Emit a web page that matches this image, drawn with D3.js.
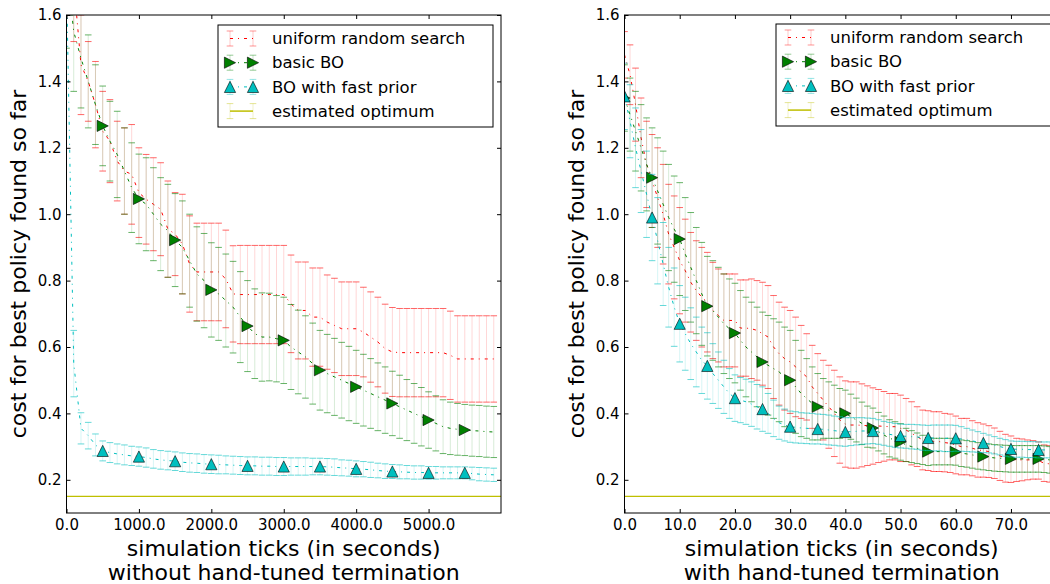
<!DOCTYPE html>
<html><head><meta charset="utf-8">
<script src="https://cdn.jsdelivr.net/npm/d3@7"></script>
<style>body{margin:0;background:#fff}svg{display:block}text{font-family:"DejaVu Sans",sans-serif}</style>
</head><body><svg id="chart" width="1050" height="584"></svg>
<script>
// ---------- data ----------
const seriesNames = ["uniform random search", "basic BO", "BO with fast prior", "estimated optimum"];
const yTickValues = [0.2, 0.4, 0.6, 0.8, 1.0, 1.2, 1.4, 1.6];
const leftXTickValues = [0, 1000, 2000, 3000, 4000, 5000];
const rightXTickValues = [0, 10, 20, 30, 40, 50, 60, 70];
const estimatedOptimum = 0.15;

const leftX = [0,100,200,300,400,500,600,700,800,900,1000,1100,1200,1300,1400,1500,1600,1700,1800,1900,
 2000,2100,2200,2300,2400,2500,2600,2700,2800,2900,3000,3100,3200,3300,3400,3500,3600,3700,3800,3900,
 4000,4100,4200,4300,4400,4500,4600,4700,4800,4900,5000,5100,5200,5300,5400,5500,5600,5700,5800,5900];
const leftRandomMean = [1.85,1.70,1.45,1.40,1.33,1.25,1.22,1.16,1.13,1.12,
 1.065,1.045,1.03,1.015,0.955,0.94,0.91,0.85,0.826,0.826,
 0.826,0.826,0.805,0.76,0.758,0.758,0.758,0.758,0.758,0.758,
 0.758,0.73,0.71,0.71,0.69,0.69,0.675,0.665,0.655,0.655,
 0.655,0.645,0.63,0.615,0.595,0.585,0.583,0.583,0.583,0.583,
 0.583,0.583,0.583,0.575,0.564,0.564,0.564,0.564,0.564,0.564];
const leftRandomErr = [0.20,0.18,0.15,0.12,0.13,0.12,0.125,0.12,0.13,0.15,
 0.135,0.135,0.14,0.14,0.145,0.125,0.15,0.145,0.147,0.147,
 0.147,0.147,0.147,0.145,0.148,0.148,0.148,0.148,0.148,0.148,
 0.148,0.147,0.146,0.146,0.148,0.148,0.142,0.142,0.141,0.141,
 0.141,0.135,0.136,0.135,0.134,0.134,0.133,0.133,0.133,0.133,
 0.133,0.133,0.133,0.133,0.13,0.13,0.13,0.13,0.13,0.13];
const leftBasicMean = [1.75,1.55,1.47,1.40,1.33,1.266,1.22,1.18,1.13,1.08,
 1.046,1.03,1.00,0.97,0.95,0.922,0.90,0.86,0.82,0.80,
 0.772,0.76,0.74,0.72,0.69,0.663,0.64,0.63,0.63,0.625,
 0.62,0.60,0.585,0.57,0.55,0.53,0.52,0.51,0.50,0.49,
 0.48,0.47,0.46,0.45,0.44,0.43,0.42,0.41,0.40,0.39,
 0.38,0.37,0.36,0.355,0.352,0.35,0.348,0.347,0.345,0.344];
const leftBasicErr = [0.25,0.18,0.15,0.14,0.12,0.12,0.12,0.13,0.13,0.135,
 0.135,0.14,0.14,0.14,0.14,0.14,0.14,0.14,0.142,0.142,
 0.142,0.14,0.14,0.138,0.137,0.137,0.135,0.133,0.132,0.13,
 0.13,0.128,0.126,0.124,0.122,0.12,0.118,0.116,0.114,0.112,
 0.11,0.108,0.105,0.102,0.1,0.097,0.095,0.092,0.09,0.088,
 0.085,0.083,0.081,0.079,0.078,0.077,0.077,0.077,0.077,0.077];
const leftPriorMean = [1.70,0.55,0.355,0.333,0.305,0.287,0.282,0.278,0.275,0.272,
 0.27,0.267,0.263,0.26,0.258,0.256,0.253,0.251,0.25,0.248,
 0.247,0.246,0.245,0.244,0.243,0.242,0.242,0.241,0.241,0.24,
 0.24,0.24,0.24,0.24,0.24,0.24,0.239,0.238,0.236,0.235,
 0.233,0.232,0.23,0.228,0.226,0.225,0.224,0.223,0.222,0.222,
 0.221,0.221,0.221,0.221,0.221,0.221,0.219,0.217,0.216,0.215];
const leftPriorErr = [0.30,0.10,0.047,0.04,0.033,0.03,0.03,0.03,0.03,0.029,
 0.029,0.029,0.028,0.028,0.028,0.028,0.028,0.028,0.028,0.028,
 0.028,0.028,0.027,0.027,0.027,0.027,0.027,0.027,0.027,0.027,
 0.027,0.026,0.026,0.026,0.025,0.025,0.025,0.025,0.024,0.024,
 0.024,0.023,0.023,0.022,0.022,0.021,0.021,0.02,0.02,0.02,
 0.019,0.019,0.018,0.018,0.018,0.018,0.019,0.02,0.02,0.02];

const rightX = [0,1,2,3,4,5,6,7,8,9,10,11,12,13,14,15,16,17,18,19,20,21,22,23,24,25,26,27,28,29,
 30,31,32,33,34,35,36,37,38,39,40,41,42,43,44,45,46,47,48,49,50,51,52,53,54,55,56,57,58,59,
 60,61,62,63,64,65,66,67,68,69,70,71,72,73,74,75,76,77];
const rightRandomMean = [1.48,1.42,1.33,1.23,1.15,1.10,1.05,1.00,0.94,0.90,
 0.86,0.83,0.795,0.77,0.75,0.735,0.71,0.695,0.68,0.68,
 0.68,0.657,0.657,0.655,0.65,0.64,0.63,0.60,0.58,0.565,
 0.555,0.54,0.525,0.51,0.48,0.46,0.44,0.42,0.40,0.38,
 0.368,0.365,0.365,0.364,0.363,0.362,0.362,0.361,0.36,0.36,
 0.355,0.35,0.34,0.33,0.32,0.318,0.315,0.315,0.312,0.31,
 0.305,0.30,0.30,0.295,0.29,0.288,0.285,0.28,0.272,0.265,
 0.262,0.26,0.26,0.26,0.26,0.258,0.25,0.248];
const rightRandomErr = [0.07,0.09,0.11,0.12,0.13,0.14,0.15,0.15,0.15,0.155,
 0.16,0.155,0.15,0.15,0.15,0.15,0.145,0.14,0.14,0.14,
 0.14,0.145,0.145,0.15,0.15,0.155,0.155,0.155,0.155,0.155,
 0.155,0.15,0.14,0.13,0.125,0.12,0.12,0.125,0.13,0.13,
 0.13,0.13,0.13,0.125,0.12,0.115,0.11,0.105,0.1,0.1,
 0.1,0.095,0.095,0.09,0.09,0.09,0.09,0.09,0.088,0.088,
 0.087,0.085,0.085,0.083,0.082,0.08,0.078,0.076,0.074,0.072,
 0.07,0.065,0.063,0.06,0.058,0.056,0.055,0.055];
const rightBasicMean = [1.35,1.30,1.25,1.20,1.15,1.11,1.07,1.03,0.99,0.955,
 0.925,0.88,0.84,0.80,0.76,0.723,0.71,0.69,0.67,0.655,
 0.642,0.62,0.60,0.585,0.57,0.555,0.545,0.535,0.525,0.51,
 0.50,0.48,0.46,0.445,0.43,0.42,0.415,0.41,0.405,0.40,
 0.40,0.39,0.38,0.37,0.36,0.356,0.345,0.335,0.325,0.32,
 0.314,0.305,0.30,0.295,0.29,0.285,0.285,0.285,0.285,0.285,
 0.284,0.28,0.278,0.275,0.272,0.27,0.268,0.266,0.265,0.264,
 0.263,0.263,0.263,0.263,0.263,0.263,0.262,0.26];
const rightBasicErr = [0.10,0.11,0.12,0.13,0.14,0.15,0.16,0.16,0.16,0.16,
 0.17,0.17,0.165,0.16,0.155,0.15,0.15,0.15,0.15,0.15,
 0.15,0.15,0.15,0.15,0.15,0.15,0.15,0.15,0.15,0.15,
 0.15,0.14,0.13,0.12,0.11,0.10,0.09,0.085,0.08,0.075,
 0.07,0.068,0.066,0.064,0.062,0.06,0.058,0.057,0.056,0.055,
 0.055,0.05,0.048,0.046,0.044,0.042,0.04,0.04,0.04,0.04,
 0.04,0.04,0.04,0.04,0.04,0.04,0.04,0.04,0.04,0.04,
 0.04,0.04,0.04,0.04,0.04,0.04,0.04,0.04];
const rightPriorMean = [1.355,1.28,1.20,1.13,1.06,0.99,0.92,0.85,0.78,0.72,
 0.67,0.64,0.61,0.585,0.56,0.543,0.52,0.50,0.48,0.46,
 0.446,0.44,0.435,0.428,0.42,0.413,0.40,0.385,0.372,0.365,
 0.36,0.358,0.356,0.355,0.354,0.353,0.352,0.35,0.348,0.346,
 0.344,0.345,0.346,0.347,0.347,0.347,0.344,0.34,0.337,0.334,
 0.332,0.331,0.33,0.329,0.327,0.326,0.326,0.326,0.325,0.325,
 0.325,0.323,0.32,0.317,0.314,0.311,0.308,0.304,0.30,0.296,
 0.293,0.292,0.292,0.291,0.291,0.29,0.29,0.29];
const rightPriorErr = [0.10,0.11,0.12,0.125,0.13,0.13,0.13,0.125,0.12,0.118,
 0.115,0.11,0.108,0.105,0.10,0.10,0.09,0.085,0.08,0.075,
 0.07,0.068,0.068,0.067,0.067,0.067,0.06,0.055,0.05,0.048,
 0.047,0.047,0.046,0.046,0.046,0.045,0.045,0.045,0.044,0.044,
 0.043,0.042,0.041,0.04,0.039,0.038,0.037,0.036,0.036,0.036,
 0.036,0.036,0.037,0.037,0.038,0.038,0.039,0.039,0.04,0.04,
 0.039,0.037,0.035,0.033,0.031,0.029,0.027,0.026,0.025,0.025,
 0.024,0.024,0.024,0.024,0.024,0.024,0.024,0.024];

// ---------- drawing ----------
const svg = d3.select("#chart");
const RED = "#ff0000", GREEN = "#008000", CYAN = "#00bfbf", YEL = "#bfbf00";
const DASH = "3,5,1,5";
const TOP = 15, BOTTOM = 513;
const CAP = 3.3, BAR_OP = 0.16, CAP_OP = 0.6, MS = 5.6;
const FONT = '"DejaVu Sans", sans-serif';

function markerPath(type, r) {
  if (type === "right") return `M${r},0L${-r},${-r}L${-r},${r}Z`;
  return `M0,${-r}L${-r},${r}L${r},${r}Z`;
}

function drawPanel(cfg) {
  const x = d3.scaleLinear().domain(cfg.xDomain).range([cfg.left, cfg.right]);
  const y = d3.scaleLinear().domain([0.1, 1.6]).range([BOTTOM, TOP]);
  const clipId = "clip" + cfg.id;
  svg.append("clipPath").attr("id", clipId).append("rect")
    .attr("x", cfg.left).attr("y", TOP).attr("width", cfg.right - cfg.left).attr("height", BOTTOM - TOP);
  const g = svg.append("g");
  const plot = g.append("g").attr("clip-path", `url(#${clipId})`);

  cfg.series.forEach(s => {
    const data = cfg.xs.map((xv, i) => ({x: xv, m: s.mean[i], e: s.err[i], i}));
    const sg = plot.append("g");
    sg.append("g").selectAll("line").data(data).join("line")
      .attr("x1", d => x(d.x)).attr("x2", d => x(d.x))
      .attr("y1", d => y(d.m - d.e)).attr("y2", d => y(d.m + d.e))
      .attr("stroke", s.color).attr("stroke-opacity", BAR_OP).attr("stroke-width", 1);
    const caps = [];
    data.forEach(d => { caps.push({x: d.x, v: d.m - d.e}); caps.push({x: d.x, v: d.m + d.e}); });
    sg.append("g").selectAll("line").data(caps).join("line")
      .attr("x1", d => x(d.x) - CAP).attr("x2", d => x(d.x) + CAP)
      .attr("y1", d => y(d.v)).attr("y2", d => y(d.v))
      .attr("stroke", s.color).attr("stroke-opacity", CAP_OP).attr("stroke-width", 1);
    sg.append("path").datum(data)
      .attr("d", d3.line().x(d => x(d.x)).y(d => y(d.m)))
      .attr("fill", "none").attr("stroke", s.color).attr("stroke-width", 1)
      .attr("stroke-dasharray", DASH);
    if (s.marker) {
      sg.append("g").selectAll("path").data(data.filter(d => d.i % 5 === 0)).join("path")
        .attr("transform", d => `translate(${x(d.x)},${y(d.m)})`)
        .attr("d", markerPath(s.marker, MS))
        .attr("fill", s.color).attr("stroke", "#000").attr("stroke-width", 0.6);
    }
  });
  // estimated optimum
  plot.append("line")
    .attr("x1", x(cfg.xDomain[0])).attr("x2", x(cfg.xDomain[1]))
    .attr("y1", y(estimatedOptimum)).attr("y2", y(estimatedOptimum))
    .attr("stroke", YEL).attr("stroke-width", 1.2);

  // axes (ticks inward on all sides)
  const fmt = d3.format(".1f");
  const ax = g.append("g");
  const xb = ax.append("g").attr("transform", `translate(0,${BOTTOM})`)
    .call(d3.axisBottom(x).tickValues(cfg.xTicks).tickFormat(fmt).tickSize(-4).tickSizeOuter(0).tickPadding(6));
  const xt = ax.append("g").attr("transform", `translate(0,${TOP})`)
    .call(d3.axisTop(x).tickValues(cfg.xTicks).tickFormat("").tickSize(-4).tickSizeOuter(0));
  const yl = ax.append("g").attr("transform", `translate(${cfg.left},0)`)
    .call(d3.axisLeft(y).tickValues(yTickValues).tickFormat(fmt).tickSize(-4).tickSizeOuter(0).tickPadding(5));
  const yr = ax.append("g").attr("transform", `translate(${cfg.right},0)`)
    .call(d3.axisRight(y).tickValues(yTickValues).tickFormat("").tickSize(-4).tickSizeOuter(0));
  [xb, xt, yl, yr].forEach(a => {
    a.attr("font-size", 15).attr("font-family", FONT);
    a.select(".domain").remove();
    a.selectAll("text").attr("fill", "#000").style("font-family", FONT).style("font-size", "15px");
    a.selectAll("line").attr("stroke", "#000");
  });
  // spines
  g.append("rect").attr("x", cfg.left).attr("y", TOP)
    .attr("width", cfg.right - cfg.left).attr("height", BOTTOM - TOP)
    .attr("fill", "none").attr("stroke", "#000").attr("stroke-width", 1);

  // axis labels
  const cx = (cfg.left + cfg.right) / 2;
  g.append("text").attr("transform", `translate(${cfg.left - 41},${(TOP + BOTTOM) / 2}) rotate(-90)`)
    .attr("text-anchor", "middle").attr("font-size", 22).text("cost for best policy found so far");
  g.append("text").attr("x", cx).attr("y", 556).attr("text-anchor", "middle").attr("font-size", 22)
    .text("simulation ticks (in seconds)");
  g.append("text").attr("x", cx).attr("y", 580).attr("text-anchor", "middle").attr("font-size", 22)
    .text(cfg.subtitle);

  // legend
  const lg = g.append("g").attr("transform", `translate(${cfg.right - 283},${cfg.legendTop})`);
  lg.append("rect").attr("width", 275).attr("height", 102).attr("fill", "#fff").attr("stroke", "#000").attr("stroke-width", 1);
  const legendItems = [
    {name: seriesNames[0], color: RED, marker: null},
    {name: seriesNames[1], color: GREEN, marker: "right"},
    {name: seriesNames[2], color: CYAN, marker: "up"},
    {name: seriesNames[3], color: YEL, marker: null, solid: true}
  ];
  legendItems.forEach((it, k) => {
    const ry = 13.5 + k * 24.2;
    const row = lg.append("g").attr("transform", `translate(0,${ry})`);
    [12, 35].forEach(hx => {
      row.append("line").attr("x1", hx).attr("x2", hx).attr("y1", -7.5).attr("y2", 7.5)
        .attr("stroke", it.color).attr("stroke-opacity", BAR_OP + 0.05);
      [-7.5, 7.5].forEach(cy => row.append("line").attr("x1", hx - CAP).attr("x2", hx + CAP)
        .attr("y1", cy).attr("y2", cy).attr("stroke", it.color).attr("stroke-opacity", CAP_OP * 0.7));
    });
    row.append("line").attr("x1", 12).attr("x2", 35).attr("y1", 0).attr("y2", 0)
      .attr("stroke", it.color).attr("stroke-width", it.solid ? 1.5 : 1)
      .attr("stroke-dasharray", it.solid ? null : DASH);
    if (it.marker) {
      [12, 35].forEach(hx => row.append("path").attr("transform", `translate(${hx},0)`)
        .attr("d", markerPath(it.marker, MS)).attr("fill", it.color).attr("stroke", "#000").attr("stroke-width", 0.6));
    }
    row.append("text").attr("x", 54).attr("y", 0).attr("dy", "0.35em").attr("font-size", 16.5).text(it.name);
  });
}

drawPanel({
  id: "L", left: 66.5, right: 501, xDomain: [0, 6000], xs: leftX, xTicks: leftXTickValues,
  subtitle: "without hand-tuned termination", legendTop: 25,
  series: [
    {color: RED, mean: leftRandomMean, err: leftRandomErr, marker: null},
    {color: GREEN, mean: leftBasicMean, err: leftBasicErr, marker: "right"},
    {color: CYAN, mean: leftPriorMean, err: leftPriorErr, marker: "up"}
  ]
});
drawPanel({
  id: "R", left: 624.5, right: 1059, xDomain: [0, 78.7], xs: rightX, xTicks: rightXTickValues,
  subtitle: "with hand-tuned termination", legendTop: 24,
  series: [
    {color: RED, mean: rightRandomMean, err: rightRandomErr, marker: null},
    {color: GREEN, mean: rightBasicMean, err: rightBasicErr, marker: "right"},
    {color: CYAN, mean: rightPriorMean, err: rightPriorErr, marker: "up"}
  ]
});
</script></body></html>
